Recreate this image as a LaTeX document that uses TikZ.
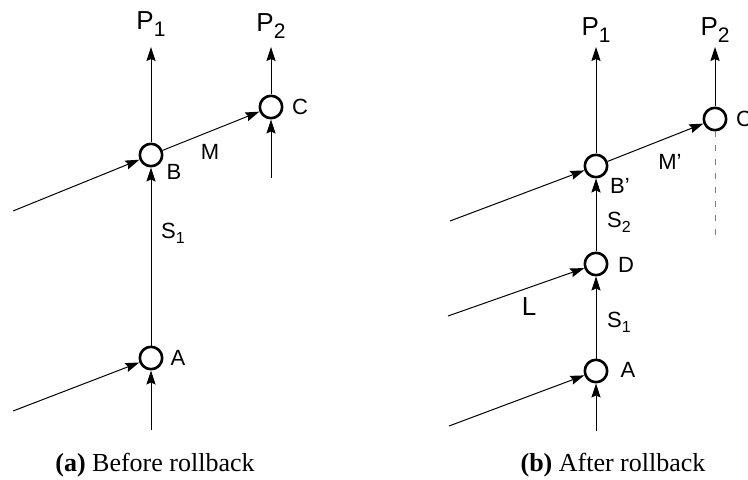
\documentclass[tikz,border=0pt]{standalone}
\usepackage{fontspec}
\setmainfont{Liberation Serif}
\setsansfont{Liberation Sans}
\usetikzlibrary{arrows.meta}
\newcommand\subidx[1]{\raisebox{-3.5pt}{\fontsize{10.5}{11}\selectfont #1}}
\newcommand\sidx[1]{\raisebox{-2.5pt}{\fontsize{8}{9}\selectfont #1}}
\tikzset{
	junc/.style={circle, draw, line width=1.3pt, minimum size=11.2pt, inner sep=0pt},
	flow/.style={-{Stealth[length=7pt,width=4.6pt,inset=1pt]}, line width=0.5pt},
	lab/.style={font=\sffamily\fontsize{11}{12}\selectfont, inner sep=0pt},
	proc/.style={font=\sffamily\fontsize{13}{15}\selectfont, inner sep=0pt},
	subcap/.style={font=\fontsize{13}{15}\selectfont, inner sep=0pt}
}
\begin{document}
\begin{tikzpicture}[x=0.5pt, y=-0.5pt, line join=round]
	\useasboundingbox (0,0) rectangle (748,480);
	% (a) before rollback
	\node[junc] (A) at (151,358) {};
	\node[junc] (B) at (151,155) {};
	\node[junc] (C) at (271,107) {};
	\path (151,47) coordinate (P1top) (271,47) coordinate (P2top)
	(151,430) coordinate (Abot) (271,178) coordinate (Cbot)
	(13,411) coordinate (Ain) (13,211) coordinate (Bin);
	\draw[flow] (Abot) -- (A);
	\draw[flow] (Ain) -- (A);
	\draw[flow] (A) -- (B);
	\draw[flow] (Bin) -- (B);
	\draw[flow] (B) -- (C);
	\draw[flow] (Cbot) -- (C);
	\draw[flow] (B) -- (P1top);
	\draw[flow] (C) -- (P2top);
	\node[proc] (pa1) at (151,24) {P\subidx{1}};
	\node[proc] (pa2) at (271,26) {P\subidx{2}};
	\foreach \n/\t/\x/\y in {la/A/178/358, lb/B/174/172, lc/C/300/107, lm/M/210/152, ls/{S\sidx{1}}/173/233}
		\node[lab] (\n) at (\x,\y) {\t};
	\node[subcap] (capa) at (155,465) {\textbf{(a)} Before rollback};
	% (b) after rollback
	\node[junc] (A2) at (596,371) {};
	\node[junc] (D) at (596,264) {};
	\node[junc] (B2) at (596,166) {};
	\node[junc] (C2) at (715,119) {};
	\path (596,47) coordinate (Q1top) (715,47) coordinate (Q2top)
	(596,431) coordinate (A2bot) (715,235) coordinate (C2bot)
	(449,426) coordinate (A2in) (448,316) coordinate (Din) (450,221) coordinate (B2in);
	\draw[flow] (A2bot) -- (A2);
	\draw[flow] (A2in) -- (A2);
	\draw[flow] (A2) -- (D);
	\draw[flow] (Din) -- (D);
	\draw[flow] (D) -- (B2);
	\draw[flow] (B2in) -- (B2);
	\draw[flow] (B2) -- (C2);
	\draw[flow] (B2) -- (Q1top);
	\draw[flow] (C2) -- (Q2top);
	\draw[gray, line width=0.5pt, dash pattern=on 3pt off 4pt] (C2) -- (C2bot);
	\node[proc] (pb1) at (596,30) {P\subidx{1}};
	\node[proc] (pb2) at (715,30) {P\subidx{2}};
	\foreach \n/\t/\x/\y in {la2/A/628/370, ld/D/626/265, lb2/B'/620/186, lc2/C/744/119, lm2/M'/670/162, ls1/{S\sidx{1}}/619/322, ls2/{S\sidx{2}}/619/222}
		\node[lab] (\n) at (\x,\y) {\t};
	\node[lab, font=\sffamily\fontsize{13}{15}\selectfont] (ll) at (529,307) {L};
	\node[subcap] (capb) at (613,465) {\textbf{(b)} After rollback};
\end{tikzpicture}
\end{document}
